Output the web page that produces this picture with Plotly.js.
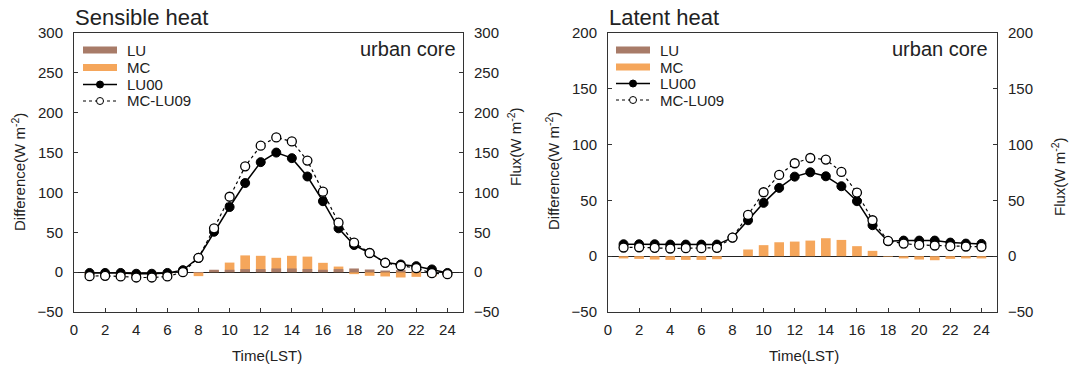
<!DOCTYPE html>
<html>
<head>
<meta charset="utf-8">
<script src="https://cdn.plot.ly/plotly-3.0.1.min.js"></script>
<style>html,body{margin:0;padding:0;background:#fff;}#chart{width:1070px;height:371px;}</style>
</head>
<body>
<div id="chart"></div>
<script>
// ---- data ----
const hours = [1,2,3,4,5,6,7,8,9,10,11,12,13,14,15,16,17,18,19,20,21,22,23,24];
const xTickVals = [0,2,4,6,8,10,12,14,16,18,20,22,24];
const legendNames = ['LU','MC','LU00','MC-LU09'];

// Sensible heat
const sensLU     = [-1,-1,-1,-1,-1,-1,0,-1,3,3,3.8,3.8,4.6,4.6,4,3,3.8,4.6,3.3,2,2.5,1.7,1,0];
const sensMC     = [-4,-4,-4,-5,-5,-4,-1,-5,2,12,21,20.5,18,20.5,19.5,11.7,7,-2.5,-4.6,-5.4,-6.7,-5.9,-5.4,-1];
const sensLU00   = [-1,-1,-1,-2,-2,-1,2.5,18,50.7,81.7,111.8,138,150,143,120,89,55,34,24,12,9.6,7.5,3.4,-1];
const sensMCLU09 = [-5,-4.6,-5.4,-6.7,-6.7,-5.4,0,18,55,94.6,132.7,158.7,169,164,140,101,62,37,24,11.7,8,5,-1.3,-2.5];

// Latent heat
const latLU      = [0,0,0,0,0,0,0,0,0,0,0,0,0,0,0,0,0,0,0,0,0,0,0,0];
const latMC      = [-2,-2.4,-3,-3.3,-3.3,-3.3,-2.7,0,6,9.9,12.5,13.1,14,16.1,14.6,9,4.8,-0.5,-2,-3,-3.6,-2.4,-2,-2];
const latLU00    = [10.7,10.7,10.7,10.4,10.4,10.4,10.4,16.7,32.2,47.8,61.2,71.3,75.2,71.6,62.7,49.3,27.8,13.4,14,14,14,12.2,11.3,11];
const latMCLU09  = [7.8,8,7.5,6.9,7.2,7.2,7.5,16.7,37,57.3,72.8,83.3,88,86.6,75.5,57,32.2,13.7,11.3,10.1,9.6,9,8.7,8.4];

// ---- style ----
const W = 1070, H = 371;
const px = v => v / W;
const py = v => 1 - v / H;
const FONT = 'Arial, "Liberation Sans", sans-serif';
const TXT = '#222';
const C_LU = '#a87b68';
const C_MC = '#f5a65b';
const BARW = 0.62;

function panelTraces(xa, ya, ya2, lu, mc, lu00, mclu09) {
  return [
    {type:'bar', x:hours, y:mc, xaxis:xa, yaxis:ya, marker:{color:C_MC}, width:BARW, showlegend:false, name:'MC'},
    {type:'bar', x:hours, y:lu, xaxis:xa, yaxis:ya, marker:{color:C_LU}, width:BARW, showlegend:false, name:'LU'},
    {type:'scatter', mode:'lines+markers', x:hours, y:lu00, xaxis:xa, yaxis:ya2, name:'LU00', showlegend:false,
     line:{color:'#000', width:1.5}, marker:{symbol:'circle', size:9, color:'#000', line:{color:'#000', width:1}}},
    {type:'scatter', mode:'lines+markers', x:hours, y:mclu09, xaxis:xa, yaxis:ya2, name:'MC-LU09', showlegend:false,
     line:{color:'#000', width:1.2, dash:'dot'}, marker:{symbol:'circle', size:9, color:'#fff', line:{color:'#000', width:1.3}}}
  ];
}

const data = [].concat(
  panelTraces('x','y','y2', sensLU, sensMC, sensLU00, sensMCLU09),
  panelTraces('x2','y3','y4', latLU, latMC, latLU00, latMCLU09)
);

const yDom = [py(312), py(33)];
const axisCommon = {showline:true, linecolor:'#333', linewidth:1, ticks:'inside', ticklen:4, tickcolor:'#333',
  showgrid:false, tickfont:{family:FONT, size:15, color:TXT}, fixedrange:true};

function xAxis(dom, anchor) {
  return Object.assign({}, axisCommon, {domain:dom, anchor:anchor, range:[0,25], tickvals:xTickVals,
    mirror:true, zeroline:false, ticklabelstandoff:4});
}
function yAxis(range, anchor, extra) {
  return Object.assign({}, axisCommon, {domain:yDom, anchor:anchor, range:range, dtick:50, tick0:0,
    ticklabelstandoff:7}, extra);
}

const ann = (text, x, y, o) => Object.assign({text:text, x:px(x), y:py(y), xref:'paper', yref:'paper',
  showarrow:false, font:{family:FONT, size:15, color:TXT}}, o || {});

// ---- manual legend (tight row spacing as in the reference) ----
const shapes = [];
const annotations = [];
function addLegend(x0, rows) {
  const x1 = x0 + 34, xm = x0 + 17, tx = x0 + 42;
  const pxy = (a, b) => ({x0:px(a[0]), x1:px(a[1]), y0:py(b[0]), y1:py(b[1]), xref:'paper', yref:'paper'});
  // LU
  shapes.push(Object.assign({type:'rect', fillcolor:C_LU, line:{width:0}}, pxy([x0, x1], [rows[0]+3.5, rows[0]-3.5])));
  // MC
  shapes.push(Object.assign({type:'rect', fillcolor:C_MC, line:{width:0}}, pxy([x0, x1], [rows[1]+3.5, rows[1]-3.5])));
  // LU00
  shapes.push(Object.assign({type:'line', line:{color:'#000', width:1.3}}, pxy([x0, x1], [rows[2], rows[2]])));
  shapes.push(Object.assign({type:'circle', fillcolor:'#000', line:{color:'#000', width:1}}, pxy([xm-3.5, xm+3.5], [rows[2]+3.5, rows[2]-3.5])));
  // MC-LU09
  shapes.push(Object.assign({type:'line', line:{color:'#000', width:1, dash:'dot'}}, pxy([x0, x1], [rows[3], rows[3]])));
  shapes.push(Object.assign({type:'circle', fillcolor:'#fff', line:{color:'#000', width:1}}, pxy([xm-3.5, xm+3.5], [rows[3]+3.5, rows[3]-3.5])));
  legendNames.forEach((n, i) => annotations.push(ann(n, tx, rows[i], {xanchor:'left', yanchor:'middle'})));
}
addLegend(83, [50, 67.5, 84.5, 101]);
addLegend(616, [50, 67, 83.5, 100]);

annotations.push(
  ann('Sensible heat', 73, 18, {xanchor:'left', yanchor:'middle', font:{family:FONT, size:22, color:TXT}}),
  ann('urban core', 458, 49, {xanchor:'right', yanchor:'middle', font:{family:FONT, size:20, color:TXT}}),
  ann('Latent heat', 607, 18, {xanchor:'left', yanchor:'middle', font:{family:FONT, size:22, color:TXT}}),
  ann('urban core', 990, 49, {xanchor:'right', yanchor:'middle', font:{family:FONT, size:20, color:TXT}}),
  ann('Difference(W m<sup>-2</sup>)', 18, 172, {textangle:-90, xanchor:'center', yanchor:'middle'}),
  ann('Flux(W m<sup>-2</sup>)', 514, 147, {textangle:-90, xanchor:'center', yanchor:'middle'}),
  ann('Difference(W m<sup>-2</sup>)', 553, 171, {textangle:-90, xanchor:'center', yanchor:'middle'}),
  ann('Flux(W m<sup>-2</sup>)', 1058, 177, {textangle:-90, xanchor:'center', yanchor:'middle'}),
  ann('Time(LST)', 267, 355, {xanchor:'center', yanchor:'middle'}),
  ann('Time(LST)', 804, 355, {xanchor:'center', yanchor:'middle'})
);

const layout = {
  width:W, height:H,
  margin:{l:0, r:0, t:0, b:0},
  paper_bgcolor:'#ffffff', plot_bgcolor:'#ffffff',
  barmode:'overlay',
  showlegend:false,
  font:{family:FONT, color:TXT},
  xaxis: xAxis([px(74), px(463)], 'y'),
  yaxis: yAxis([-50,300], 'x', {zeroline:true, zerolinecolor:'#222', zerolinewidth:1}),
  yaxis2: yAxis([-50,300], 'x', {overlaying:'y', side:'right', zeroline:false}),
  xaxis2: xAxis([px(608), px(997)], 'y3'),
  yaxis3: yAxis([-50,200], 'x2', {zeroline:true, zerolinecolor:'#222', zerolinewidth:1}),
  yaxis4: yAxis([-50,200], 'x2', {overlaying:'y3', side:'right', zeroline:false}),
  shapes: shapes,
  annotations: annotations
};

Plotly.newPlot('chart', data, layout, {displayModeBar:false, staticPlot:true});
</script>
</body>
</html>
